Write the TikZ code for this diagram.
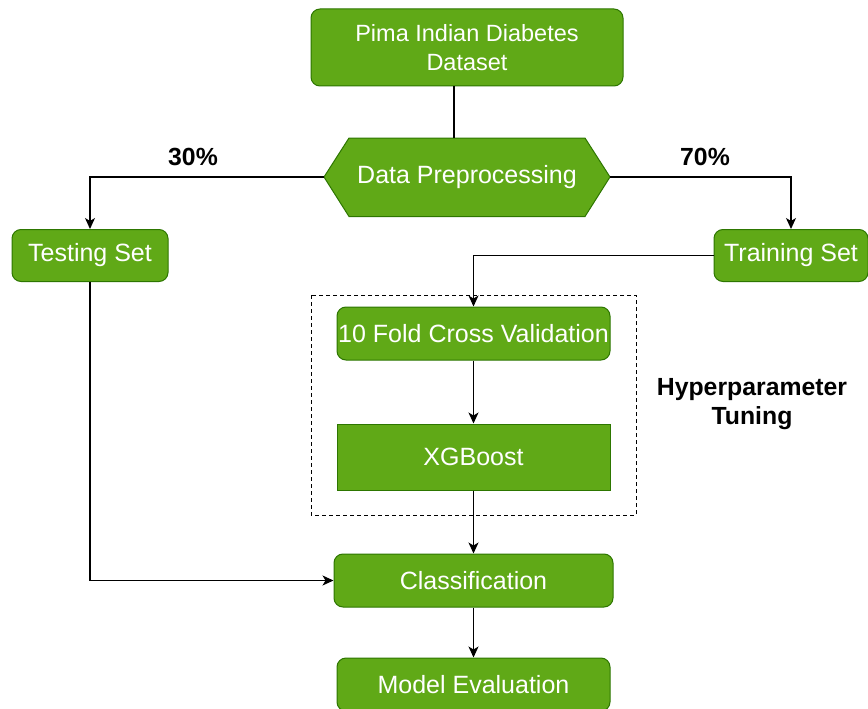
\documentclass[tikz,border=0pt]{standalone}
\usepackage{fontspec}
\setmainfont{Liberation Sans}
\usetikzlibrary{arrows.meta}
\definecolor{gfill}{HTML}{60A917}
\definecolor{gline}{HTML}{2D7600}
\tikzset{
  box/.style={draw=gline, fill=gfill, line width=1pt, text=white, align=center,
    inner sep=0pt, font=\fontsize{25}{29}\selectfont},
  rbox/.style={box, rounded corners=9pt},
  conn/.style={line width=1.3pt, -{Stealth[length=11pt,width=10pt,inset=3pt]}},
  plain/.style={line width=1.3pt},
  lbl/.style={font=\bfseries\fontsize{24.8}{29}\selectfont, align=center, inner sep=0pt}
}
\begin{document}
\begin{tikzpicture}[x=1pt,y=-1pt]
\useasboundingbox (0,0) rectangle (868,709);
% dashed group
\draw[dashed, line width=0.9pt, dash pattern=on 4pt off 3pt] (311,295) rectangle (636,515);
% nodes
\node[rbox, minimum width=312pt, minimum height=77pt, font=\fontsize{23.5}{29}\selectfont] (pima) at (467,47.5) {Pima Indian Diabetes\\Dataset};
\fill[gfill, draw=gline, line width=1pt] (324,177) -- (349,138) -- (585,138) -- (610,177) -- (585,216.5) -- (349,216.5) -- cycle;
\node[box, draw=none, fill=none, minimum width=236pt, minimum height=78pt] (dp) at (467,177) {Data Preprocessing};
\coordinate (dpL) at (324,177);
\coordinate (dpR) at (610,177);
\node[rbox, minimum width=156pt, minimum height=52pt] (test) at (90,255.5) {Testing Set};
\node[rbox, minimum width=154pt, minimum height=52pt] (train) at (791,255.5) {Training Set};
\node[rbox, minimum width=273pt, minimum height=53pt] (cv) at (473.5,333.5) {10 Fold Cross Validation};
\node[box, minimum width=273pt, minimum height=66pt] (xg) at (473.5,457) {XGBoost};
\node[rbox, minimum width=279pt, minimum height=53pt] (cls) at (473.5,580.5) {Classification};
\node[rbox, minimum width=273pt, minimum height=53pt] (me) at (473.5,684.5) {Model Evaluation};
% labels
\node[lbl] (p30) at (193,157) {30\%};
\node[lbl] (p70) at (705,157) {70\%};
\node[lbl] (hp) at (752,404.5) {Hyperparameter\\Tuning};
% connectors
\draw[plain] ([xshift=-13pt]pima.south) -- ([xshift=-13pt]dp.north);
\draw[conn] (dpL) -| (test.north);
\draw[conn] (dpR) -| (train.north);
\draw[conn] (train.west) -| (cv.north);
\draw[conn] (cv.south) -- (xg.north);
\draw[conn] (xg.south) -- (cls.north);
\draw[conn] (test.south) |- (cls.west);
\draw[conn] (cls.south) -- (me.north);
\end{tikzpicture}
\end{document}
